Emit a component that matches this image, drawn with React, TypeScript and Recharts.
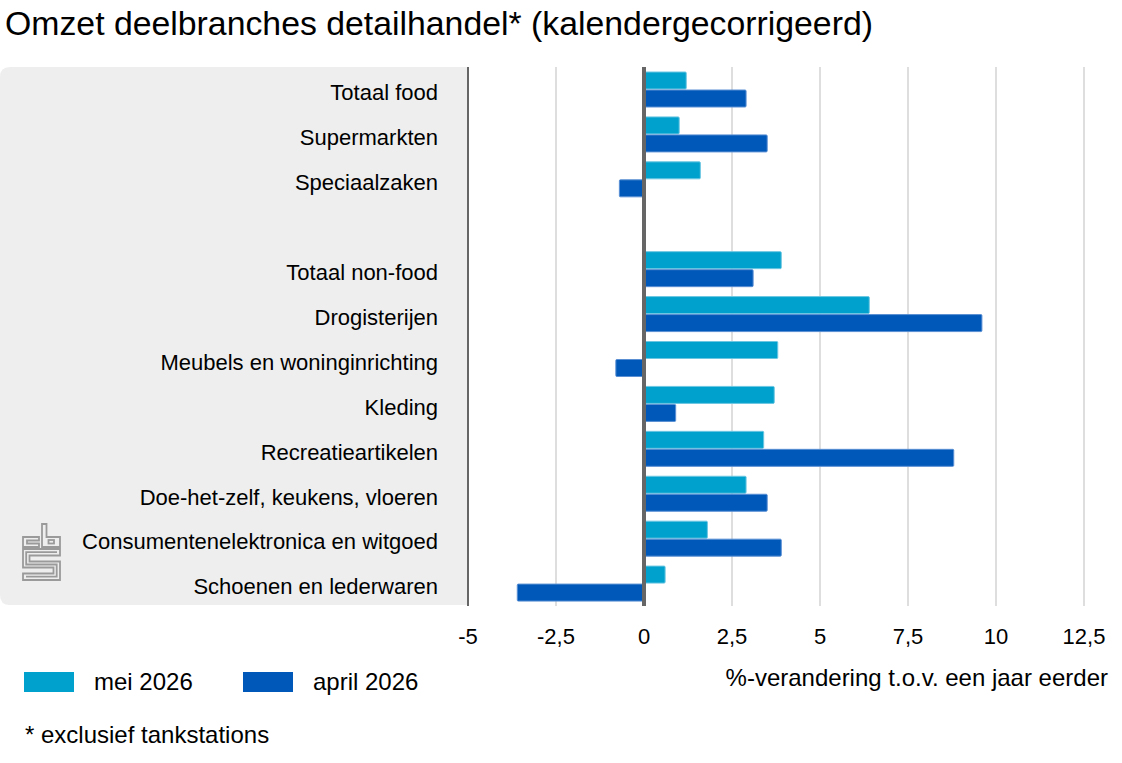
import { BarChart, Bar, XAxis, YAxis, CartesianGrid, ReferenceLine } from 'recharts';

const categories = [
  'Totaal food',
  'Supermarkten',
  'Speciaalzaken',
  '',
  'Totaal non-food',
  'Drogisterijen',
  'Meubels en woninginrichting',
  'Kleding',
  'Recreatieartikelen',
  'Doe-het-zelf, keukens, vloeren',
  'Consumentenelektronica en witgoed',
  'Schoenen en lederwaren',
];

// %-change vs a year earlier; the blank row separates food from non-food
const mei2026 = [1.2, 1.0, 1.6, null, 3.9, 6.4, 3.8, 3.7, 3.4, 2.9, 1.8, 0.6];
const april2026 = [2.9, 3.5, -0.7, null, 3.1, 9.6, -0.8, 0.9, 8.8, 3.5, 3.9, -3.6];

const xTicks = [-5, -2.5, 0, 2.5, 5, 7.5, 10, 12.5];

const data = categories.map((name, i) => ({ name, mei: mei2026[i], april: april2026[i] }));

const W = 1122;
const H = 763;
const FONT = '"Liberation Sans", Arial, Helvetica, sans-serif';
const MEI = '#00a1cd';
const APRIL = '#0058b8';

const fmt = (v: number) => String(v).replace('.', ',');

function CategoryTick(props: any) {
  const { x, y, payload } = props;
  return (
    <text x={x} y={y + 3} dy="0.355em" textAnchor="end" fontSize={22} fill="#000" fontFamily={FONT}>
      {payload.value}
    </text>
  );
}

// outlined "cbs" mark in the corner of the label panel
function CbsLogo() {
  return (
    <g fill="none" stroke="#9a9a9a" strokeWidth={1.8} strokeLinejoin="miter">
      <path d="M39 537 H23 V547 H39 V543.5 H27 V540.5 H39 Z" />
      <path d="M42 524 H46.5 V537 H60 V547 H42 Z" />
      <rect x={48.5} y={540} width={5.5} height={3.5} />
      <path d="M23 549 H60 V555.5 H29.5 V561.5 H60 V580 H23 V573.5 H53.5 V567.5 H23 Z" />
      <path d="M57 552.2 H26.2 V564.5 H56.7 V576.7 H26" />
    </g>
  );
}

export default function App() {
  return (
    <div style={{ position: 'absolute', left: 0, top: 0, width: W, height: H, background: '#fff' }}>
      <svg width={W} height={H} style={{ position: 'absolute', left: 0, top: 0 }}>
        <text x={5} y={35} fontSize={33.8} fontFamily={FONT} fill="#000">
          Omzet deelbranches detailhandel* (kalendergecorrigeerd)
        </text>
        <path d="M10 67 H467 V605 H10 Q0 605 0 595 V77 Q0 67 10 67 Z" fill="#eeeeee" />
        <CbsLogo />
        <rect x={24} y={672} width={50} height={20} fill={MEI} />
        <text x={94} y={690} fontSize={24} fontFamily={FONT} fill="#000">mei 2026</text>
        <rect x={243} y={672} width={50} height={20} fill={APRIL} />
        <text x={313} y={690} fontSize={24} fontFamily={FONT} fill="#000">april 2026</text>
        <text x={1108} y={686} textAnchor="end" fontSize={24} fontFamily={FONT} fill="#000">
          %-verandering t.o.v. een jaar eerder
        </text>
        <text x={25} y={743} fontSize={24} fontFamily={FONT} fill="#000">* exclusief tankstations</text>
      </svg>
      <div style={{ position: 'absolute', left: 0, top: 0 }}>
        <BarChart
          width={W}
          height={H}
          data={data}
          layout="vertical"
          margin={{ top: 67, right: 38, bottom: 117, left: 0 }}
          barSize={17}
          barGap={1}
        >
          <CartesianGrid horizontal={false} vertical stroke="#bdbdbd" strokeWidth={1} />
          <XAxis
            type="number"
            domain={[-5, 12.5]}
            ticks={xTicks}
            tickFormatter={fmt}
            axisLine={false}
            tickLine={false}
            tickSize={0}
            tickMargin={22}
            height={40}
            tick={{ fontSize: 22, fill: '#000', fontFamily: FONT }}
          />
          <YAxis
            type="category"
            dataKey="name"
            width={468}
            axisLine={false}
            tickLine={false}
            tickSize={0}
            tickMargin={30}
            interval={0}
            tick={<CategoryTick />}
          />
          <Bar dataKey="mei" fill={MEI} stroke="#6cc6e2" strokeWidth={1} radius={1} isAnimationActive={false} />
          <Bar dataKey="april" fill={APRIL} stroke="#5a8fd4" strokeWidth={1} radius={1} isAnimationActive={false} />
          <ReferenceLine x={-5} stroke="#666" strokeWidth={2} />
          <ReferenceLine x={0} stroke="#666" strokeWidth={4} />
        </BarChart>
      </div>
    </div>
  );
}
